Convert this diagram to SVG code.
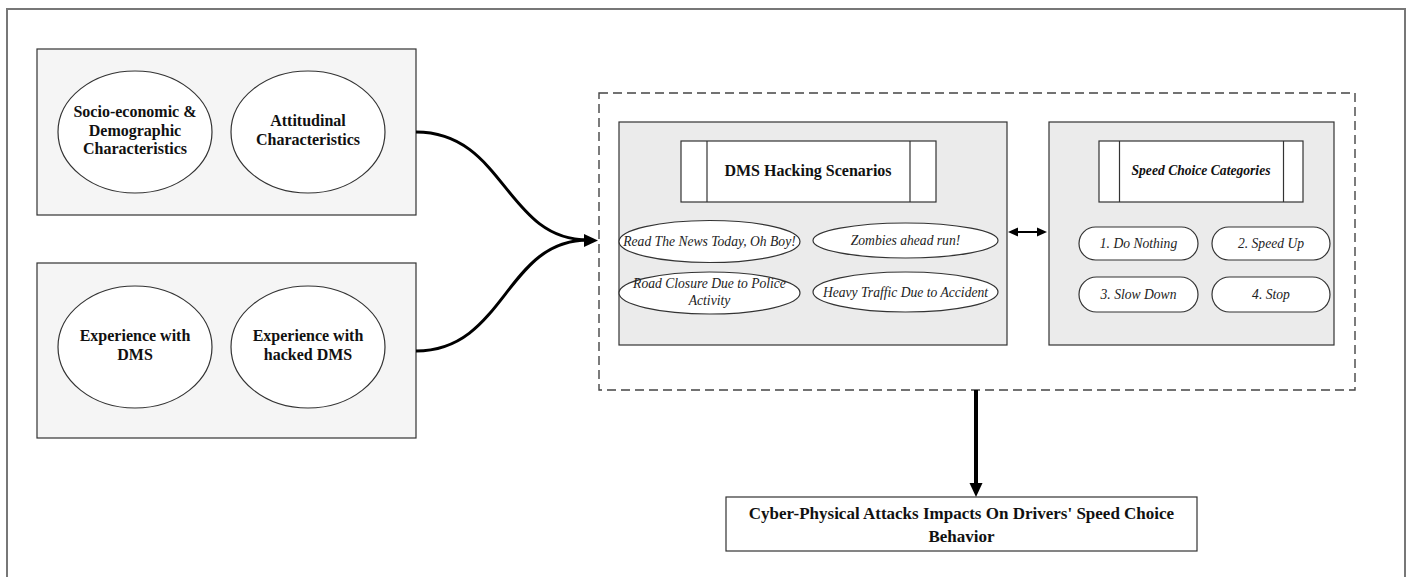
<svg xmlns="http://www.w3.org/2000/svg" width="1409" height="577" viewBox="0 0 1409 577">
<defs>
<style>
.frame{fill:#ffffff;stroke:#777777;stroke-width:2}
.grp{fill:#f5f5f5;stroke:#333333;stroke-width:1.2}
.inner{fill:#ebebeb;stroke:#333333;stroke-width:1.2}
.ell{fill:#ffffff;stroke:#333333;stroke-width:1.2}
.title{fill:#ffffff;stroke:#333333;stroke-width:1.2}
.b{font-family:"Liberation Serif","Times New Roman",serif;font-weight:bold;font-size:16px;fill:#111111;text-anchor:middle}
.i{font-family:"Liberation Serif","Times New Roman",serif;font-style:italic;font-size:13.6px;fill:#222222;text-anchor:middle}
.con{fill:none;stroke:#000000;stroke-width:3}
</style>
</defs>
<rect class="frame" x="7" y="9" width="1398" height="600"/>

<g id="group-socio">
<rect class="grp" x="37" y="49" width="379" height="166"/>
<g id="node-socio">
<ellipse class="ell" cx="135" cy="132" rx="77" ry="61"/>
<text class="b" x="135" y="117">Socio-economic &amp;</text>
<text class="b" x="135" y="135.5">Demographic</text>
<text class="b" x="135" y="154">Characteristics</text>
</g>
<g id="node-attitudinal">
<ellipse class="ell" cx="308" cy="132" rx="77" ry="61"/>
<text class="b" x="308" y="126">Attitudinal</text>
<text class="b" x="308" y="145">Characteristics</text>
</g>
</g>

<g id="group-experience">
<rect class="grp" x="37" y="263" width="379" height="175"/>
<g id="node-exp-dms">
<ellipse class="ell" cx="135" cy="347" rx="77" ry="61"/>
<text class="b" x="135" y="341">Experience with</text>
<text class="b" x="135" y="360">DMS</text>
</g>
<g id="node-exp-hacked">
<ellipse class="ell" cx="308" cy="347" rx="77" ry="61"/>
<text class="b" x="308" y="341">Experience with</text>
<text class="b" x="308" y="360">hacked DMS</text>
</g>
</g>

<g id="group-dashed">
<rect x="599" y="93" width="756" height="297" fill="none" stroke="#444444" stroke-width="1.4" stroke-dasharray="9,5"/>
</g>

<g id="group-scenarios">
<rect class="inner" x="619" y="122" width="388" height="223"/>
<g id="node-scenarios-title">
<rect class="title" x="681" y="141" width="255" height="61"/>
<line x1="707" y1="141" x2="707" y2="202" stroke="#333" stroke-width="1.2"/>
<line x1="910" y1="141" x2="910" y2="202" stroke="#333" stroke-width="1.2"/>
<text class="b" x="808" y="176">DMS Hacking Scenarios</text>
</g>
<g id="node-news">
<ellipse class="ell" cx="709.5" cy="241.5" rx="90.5" ry="21"/>
<text class="i" x="709.5" y="246">Read The News Today, Oh Boy!</text>
</g>
<g id="node-zombies">
<ellipse class="ell" cx="905.5" cy="240.5" rx="92.5" ry="17.5"/>
<text class="i" x="905.5" y="245">Zombies ahead run!</text>
</g>
<g id="node-road">
<ellipse class="ell" cx="709.5" cy="293" rx="90.5" ry="21"/>
<text class="i" x="709.5" y="288">Road Closure Due to Police</text>
<text class="i" x="709.5" y="305">Activity</text>
</g>
<g id="node-traffic">
<ellipse class="ell" cx="905.5" cy="292" rx="92.5" ry="20"/>
<text class="i" x="905.5" y="296.5">Heavy Traffic Due to Accident</text>
</g>
</g>

<g id="group-speed">
<rect class="inner" x="1049" y="122" width="285" height="223"/>
<g id="node-speed-title">
<rect class="title" x="1099" y="141" width="204" height="61"/>
<line x1="1119.5" y1="141" x2="1119.5" y2="202" stroke="#333" stroke-width="1.2"/>
<line x1="1283.5" y1="141" x2="1283.5" y2="202" stroke="#333" stroke-width="1.2"/>
<text class="b" x="1201" y="175" style="font-style:italic;font-size:13.6px">Speed Choice Categories</text>
</g>
<g id="node-nothing">
<rect class="ell" x="1079" y="227" width="119" height="33" rx="16.5" ry="16.5"/>
<text class="i" x="1138.5" y="248">1. Do Nothing</text>
</g>
<g id="node-speedup">
<rect class="ell" x="1212" y="227" width="118" height="33" rx="16.5" ry="16.5"/>
<text class="i" x="1271" y="248">2. Speed Up</text>
</g>
<g id="node-slow">
<rect class="ell" x="1079" y="277" width="119" height="35" rx="17.5" ry="17.5"/>
<text class="i" x="1138.5" y="299">3. Slow Down</text>
</g>
<g id="node-stop">
<rect class="ell" x="1212" y="277" width="118" height="35" rx="17.5" ry="17.5"/>
<text class="i" x="1271" y="299">4. Stop</text>
</g>
</g>

<g id="node-outcome">
<rect x="726" y="497" width="471" height="54" fill="#ffffff" stroke="#333333" stroke-width="1.2"/>
<text class="b" x="961.5" y="519" style="font-size:17px">Cyber-Physical Attacks Impacts On Drivers' Speed Choice</text>
<text class="b" x="961.5" y="542" style="font-size:17px">Behavior</text>
</g>

<g id="connectors">
<path class="con" d="M416,132 C505,132 505,240 588,240"/>
<path class="con" d="M416,351 C505,351 505,240 588,240"/>
<path d="M584,234 L598,240.5 L584,247 z" fill="#000"/>
<line x1="1017" y1="232" x2="1038" y2="232" stroke="#000" stroke-width="2"/>
<path d="M1008,232 L1018,227.5 L1018,236.5 z" fill="#000"/>
<path d="M1047,232 L1037,227.5 L1037,236.5 z" fill="#000"/>
<line x1="976" y1="390" x2="976" y2="486" stroke="#000" stroke-width="4"/>
<path d="M969.5,483 L982.5,483 L976,497 z" fill="#000"/>
</g>
</svg>
